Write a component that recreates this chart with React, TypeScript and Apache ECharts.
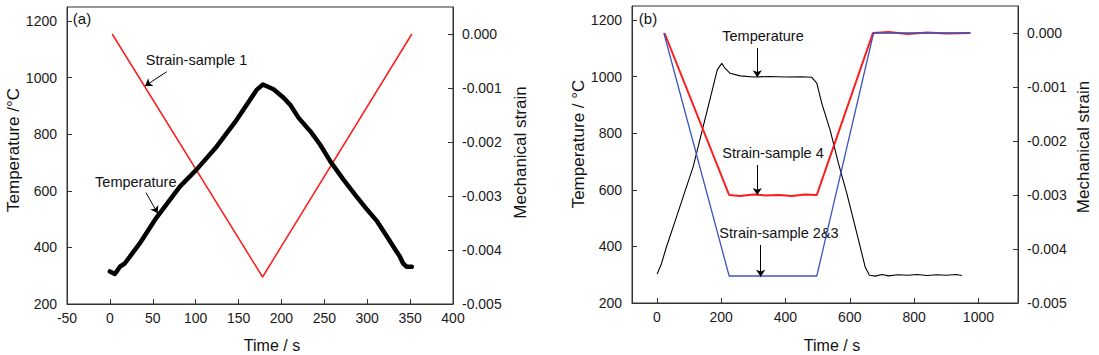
import React, { useEffect, useRef } from "react";
import * as echarts from "echarts";

const FONT = '"Liberation Sans", Arial, Helvetica, sans-serif';

// ---------- Panel (a) ----------
const timeA_temp = [0, 5.8, 11.7, 17.5, 35, 52.6, 81.8, 101, 124.6, 148, 171.4, 178.4, 190.8, 202.5, 210, 220, 233.6, 245, 257, 272.5, 286, 300, 311.6, 323, 333, 338, 341.7, 345.8, 352];
const tempA = [315, 306, 332, 344, 415, 498, 616, 675, 757, 852, 958, 976, 959, 929, 905, 858, 811, 764, 704, 639, 586, 533, 492, 439, 391, 368, 344, 332, 332];
const timeA_strain = [2.7, 178, 352];
const strainA = [0, -0.0045, 0];

// ---------- Panel (b) ----------
const timeB_temp = [1, 14.6, 30, 51, 82, 113, 144, 170, 188, 202, 212, 228, 259, 300, 350, 400, 450, 482, 497.5, 513, 539, 565, 591, 622, 648, 661, 680, 700, 720, 750, 780, 810, 840, 870, 900, 930, 949];
const tempB = [302, 339, 398, 469, 575, 681, 823, 941, 1024, 1047, 1030, 1012, 1003, 999, 1001, 999, 1000, 998, 977, 906, 811, 693, 587, 446, 327, 298, 295, 301, 296, 300, 298, 301, 297, 300, 298, 301, 297];
const timeB_s4 = [24, 225, 260, 300, 340, 380, 420, 460, 497.5, 672, 720, 780, 840, 900, 975];
const strainB4 = [0, -0.003, -0.00302, -0.00299, -0.00301, -0.003, -0.00302, -0.00299, -0.003, 0, 0.00002, -0.00002, 0.00001, -0.00001, 0];
const timeB_s23 = [22, 225, 497.5, 674, 975];
const strainB23 = [0, -0.0045, -0.0045, 0, 0];

// ---------- Tick labels ----------
const tempTicks = [200, 400, 600, 800, 1000, 1200];
const strainTicks = [-0.005, -0.004, -0.003, -0.002, -0.001, 0];
const timeTicksB = [0, 200, 400, 600, 800, 1000];

const zip = (xs: number[], ys: number[]) => xs.map((x, i) => [x, ys[i]]);

const AX = "#333";
const axisLine = { show: true, onZero: false, lineStyle: { color: AX, width: 1 } };
const labelStyle = { color: "#1a1a1a", fontSize: 14, fontFamily: FONT };
const plain = (v: number) => String(Math.round(v));

function tempAxis(gridIndex: number) {
  return {
    type: "value",
    gridIndex,
    position: "left",
    min: 200,
    max: 1250,
    axisLine,
    axisTick: { show: true, inside: true, length: 5, lineStyle: { color: AX }, customValues: tempTicks },
    axisLabel: { ...labelStyle, margin: 10, customValues: tempTicks, formatter: plain },
    splitLine: { show: false },
  };
}
function strainAxis(gridIndex: number) {
  return {
    type: "value",
    gridIndex,
    position: "right",
    min: -0.005,
    max: 0.0005,
    axisLine,
    axisTick: { show: true, inside: true, length: 5, lineStyle: { color: AX }, customValues: strainTicks },
    axisLabel: {
      ...labelStyle,
      margin: 9,
      customValues: strainTicks,
      formatter: (v: number) => (Math.abs(v) < 1e-12 ? "0.000" : v.toFixed(3)),
    },
    splitLine: { show: false },
  };
}

const arrowLine = (pairs: number[][][]) => ({
  silent: true,
  symbol: ["none", "arrow"],
  symbolSize: 7,
  label: { show: false },
  lineStyle: { color: "#000", width: 1, type: "solid" },
  data: pairs.map((p) => [{ x: p[0][0], y: p[0][1] }, { x: p[1][0], y: p[1][1] }]),
});

const txt = (text: string, x: number, y: number, size: number, rotation = 0) => ({
  type: "text",
  x,
  y,
  rotation,
  silent: true,
  style: { text, fontSize: size, fontFamily: FONT, fill: "#111", align: "center", verticalAlign: "middle" },
});

export default function App() {
  const ref = useRef<HTMLDivElement>(null);
  useEffect(() => {
    const chart = echarts.init(ref.current!, null, { renderer: "svg" });
    const option: any = {
      animation: false,
      backgroundColor: "#fff",
      grid: [
        { left: 67, top: 7, width: 386, height: 297, show: true, borderColor: AX, borderWidth: 1, backgroundColor: "transparent" },
        { left: 632, top: 6, width: 386, height: 297, show: true, borderColor: AX, borderWidth: 1, backgroundColor: "transparent" },
      ],
      xAxis: [
        {
          type: "value",
          gridIndex: 0,
          min: -50,
          max: 400,
          interval: 50,
          axisLine,
          axisTick: { show: true, inside: true, length: 5, lineStyle: { color: AX } },
          axisLabel: { ...labelStyle, margin: 7, formatter: plain },
          splitLine: { show: false },
        },
        {
          type: "value",
          gridIndex: 1,
          min: -77,
          max: 1123,
          axisLine,
          axisTick: { show: true, inside: true, length: 5, lineStyle: { color: AX }, customValues: timeTicksB },
          axisLabel: { ...labelStyle, margin: 7, customValues: timeTicksB, formatter: plain },
          splitLine: { show: false },
        },
      ],
      yAxis: [tempAxis(0), strainAxis(0), tempAxis(1), strainAxis(1)],
      series: [
        {
          type: "line",
          xAxisIndex: 0,
          yAxisIndex: 1,
          data: zip(timeA_strain, strainA),
          showSymbol: false,
          symbol: "none",
          lineStyle: { color: "#ff1a1a", width: 1.5 },
          z: 2,
        },
        {
          type: "line",
          xAxisIndex: 0,
          yAxisIndex: 0,
          data: zip(timeA_temp, tempA),
          showSymbol: false,
          symbol: "none",
          lineStyle: { color: "#000", width: 4.5, join: "round", cap: "round" },
          z: 3,
          markLine: arrowLine([
            [[166.7, 71.7], [145, 86]],
            [[146, 192.7], [157.7, 213.3]],
          ]),
        },
        {
          type: "line",
          xAxisIndex: 1,
          yAxisIndex: 2,
          data: zip(timeB_temp, tempB),
          showSymbol: false,
          symbol: "none",
          lineStyle: { color: "#000", width: 1.1 },
          z: 2,
          markLine: arrowLine([
            [[757.3, 48], [757.3, 77.3]],
            [[757.3, 165], [757.3, 195]],
            [[760.7, 245], [760.7, 276.7]],
          ]),
        },
        {
          type: "line",
          xAxisIndex: 1,
          yAxisIndex: 3,
          data: zip(timeB_s4, strainB4),
          showSymbol: false,
          symbol: "none",
          lineStyle: { color: "#ff1a1a", width: 2 },
          z: 3,
        },
        {
          type: "line",
          xAxisIndex: 1,
          yAxisIndex: 3,
          data: zip(timeB_s23, strainB23),
          showSymbol: false,
          symbol: "none",
          lineStyle: { color: "#3a55c0", width: 1.3 },
          z: 4,
        },
      ],
      graphic: [
        txt("(a)", 82, 18, 15),
        txt("(b)", 648, 18, 15),
        txt("Temperature /°C", 13.6, 150, 17, Math.PI / 2),
        txt("Mechanical strain", 520, 152.5, 17, Math.PI / 2),
        txt("Time / s", 272, 345, 16),
        txt("Temperature / °C", 578, 144, 17, Math.PI / 2),
        txt("Mechanical strain", 1083, 147, 17, Math.PI / 2),
        txt("Time / s", 832, 345, 16),
        txt("Strain-sample 1", 196.5, 60, 14.5),
        txt("Temperature", 135.8, 181.7, 14.5),
        txt("Temperature", 763, 36, 14.5),
        txt("Strain-sample 4", 773, 153, 14.5),
        txt("Strain-sample 2&3", 779, 233.3, 14.5),
      ],
    };
    chart.setOption(option);
    return () => chart.dispose();
  }, []);
  return (
    <div
      ref={ref}
      style={{ position: "fixed", left: 0, top: 0, width: 1099, height: 355, background: "#fff" }}
    />
  );
}
